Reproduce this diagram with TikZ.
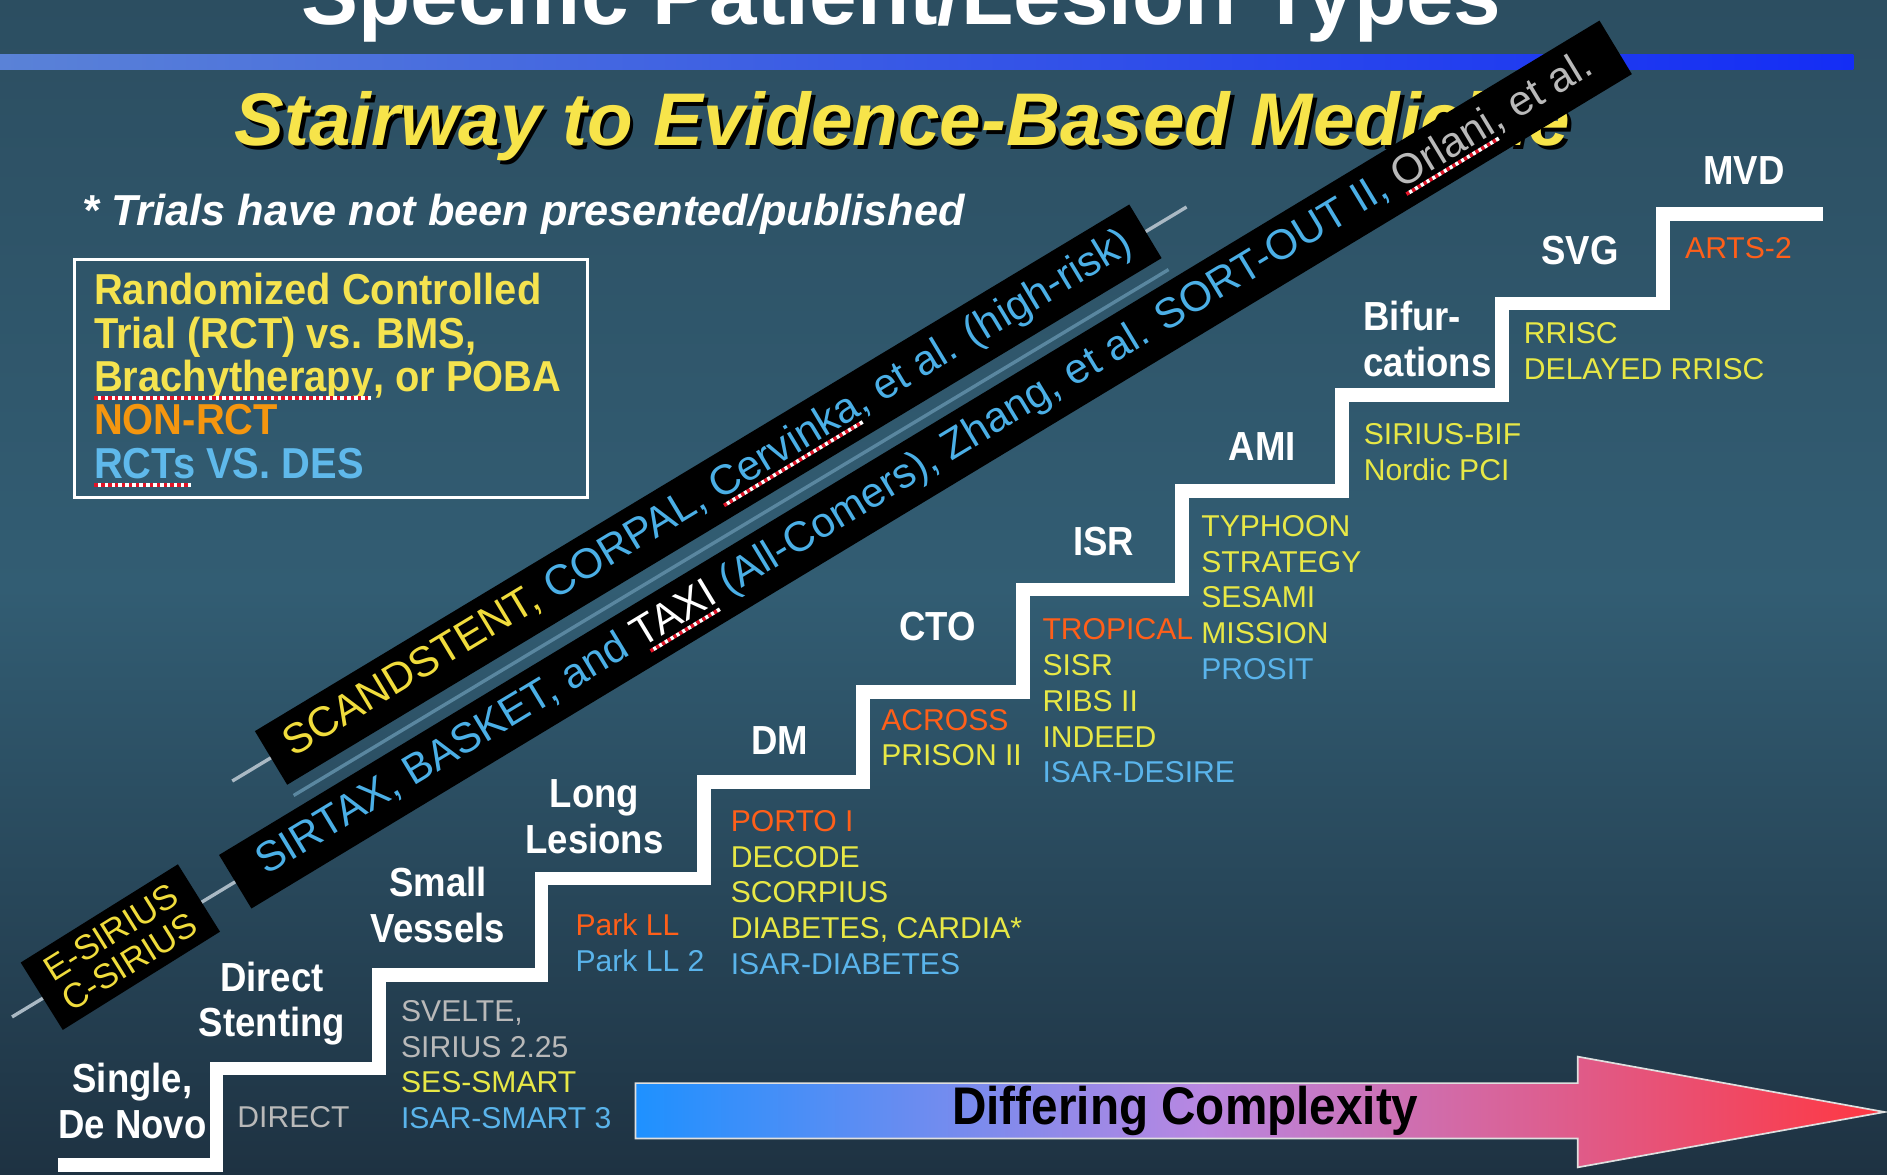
\documentclass[tikz,border=0pt]{standalone}
\usepackage{fontspec}
\setmainfont{Liberation Sans}
\newfontfamily\narrowfont[FakeStretch=0.92]{Liberation Sans}
\newfontfamily\stairfont[FakeStretch=0.9]{Liberation Sans}
\usetikzlibrary{positioning,calc}
\definecolor{bgtop}{RGB}{44,78,97}
\definecolor{bgmid}{RGB}{50,93,115}
\definecolor{bgbot}{RGB}{30,50,66}
\definecolor{barleft}{RGB}{90,130,215}
\definecolor{barright}{RGB}{20,45,245}
\definecolor{titleyellow}{RGB}{247,228,74}
\definecolor{legyellow}{RGB}{245,227,79}
\definecolor{legorange}{RGB}{245,150,15}
\definecolor{legblue}{RGB}{95,185,235}
\definecolor{tyellow}{RGB}{232,232,70}
\definecolor{torange}{RGB}{255,95,25}
\definecolor{tblue}{RGB}{90,180,235}
\definecolor{tgrey}{RGB}{185,185,185}
\definecolor{bandblue}{RGB}{75,175,230}
\definecolor{bandyellow}{RGB}{240,220,60}
\definecolor{skewgrey}{RGB}{170,185,196}
\definecolor{gapblue}{RGB}{90,135,160}
\definecolor{squigred}{RGB}{225,20,40}
\definecolor{arrowblue}{RGB}{30,145,255}
\definecolor{arrowmid}{RGB}{185,135,225}
\definecolor{arrowred}{RGB}{255,55,65}
\newsavebox{\spellbox}
\newcommand{\spellerr}[1]{\sbox{\spellbox}{#1}\rlap{\usebox{\spellbox}}\leaders\hbox{\textcolor{squigred}{\rule[-0.2em]{0.08em}{0.09em}}\textcolor{white}{\rule[-0.2em]{0.08em}{0.09em}}}\hskip\wd\spellbox\relax}

\tikzset{
  stairlabel/.style={text=white, align=center, font=\stairfont\bfseries\fontsize{24pt}{27pt}\selectfont},
  trials/.style={anchor=north west, align=left, font=\fontsize{17.8pt}{21.1pt}\selectfont},
  band/.style={fill=black, text=bandblue, minimum height=1.3cm, font=\fontsize{24.9pt}{24.9pt}\selectfont},
  skewer/.style={draw=skewgrey, line width=2pt},
}

\begin{document}
\begin{tikzpicture}[x=0.025cm,y=-0.025cm,every node/.style={inner sep=0pt}]
% background
\clip (0,0) rectangle (1568,976);
\shade[top color=bgtop, bottom color=bgmid] (0,0) rectangle (1568,489);
\shade[top color=bgmid, bottom color=bgbot] (0,488) rectangle (1568,976);
\shade[left color=barleft, right color=barright] (0,45) rectangle (1540,58);

% titles
\node[anchor=base, text=white, font=\bfseries\fontsize{50.5pt}{50.5pt}\selectfont] (toptitle) at (749,20) {Specific Patient/Lesion Types};
\node[anchor=base, text=black, font=\bfseries\itshape\fontsize{44.1pt}{44.1pt}\selectfont] (stairshadow) at (753,124) {Stairway to Evidence-Based Medicine};
\node[anchor=base, text=titleyellow, font=\bfseries\itshape\fontsize{44.1pt}{44.1pt}\selectfont] (stairtitle) at (750,121) {Stairway to Evidence-Based Medicine};
\node[anchor=base west, text=white, font=\bfseries\itshape\fontsize{25.6pt}{25.6pt}\selectfont] (note) at (68,187) {* Trials have not been presented/published};

% legend
\node[draw=white, line width=1.8pt, minimum width=10.65cm, minimum height=4.925cm] (legend) at (275,314.5) {};
\node[anchor=north west, align=left, font=\narrowfont\bfseries\fontsize{25.6pt}{25.6pt}\selectfont] (legendtext) at (78,227) {\textcolor{legyellow}{Randomized Controlled}\\\textcolor{legyellow}{Trial (RCT) vs. BMS,}\\\textcolor{legyellow}{\spellerr{Brachytherapy}, or POBA}\\\textcolor{legorange}{NON-RCT}\\\textcolor{legblue}{\spellerr{RCTs} VS. DES}};

% skewers behind the bands
\coordinate (esirTail) at (10,845);
\coordinate (sirtaxTail) at (200,730);
\coordinate (scandTail) at (193,649);
\coordinate (scandHead) at (986,172);
\coordinate (gapStart) at (244,661);
\coordinate (gapEnd) at (971,224);
\draw[skewer] (esirTail) -- (sirtaxTail);
\draw[skewer] (scandTail) -- (scandHead);
\draw[gapblue, line width=2pt] (gapStart) -- (gapEnd);

% bands
\node[band, minimum width=21.2cm, rotate=31.06] (scandband) at (588.5,411) {\textcolor{bandyellow}{SCANDSTENT,} CORPAL, \spellerr{Cervinka}, et al. (high-risk)};
\node[band, minimum width=33.5cm, rotate=31.15] (sirtaxband) at (769,386) {SIRTAX, BASKET, and \textcolor{white}{\spellerr{TAXI}} (All-Comers), Zhang, et al. SORT-OUT II, \textcolor{tgrey}{\spellerr{Orlani}, et al.}};
\node[band, minimum width=3.85cm, minimum height=1.65cm, rotate=32, text=bandyellow, align=center, font=\fontsize{20.5pt}{20.5pt}\selectfont] (esirbox) at (100,787) {E-SIRIUS\\C-SIRIUS};

% stairs
\draw[white, line width=8pt, line join=miter] (48,968) -| (180,888) -| (315,810) -| (450,730) -| (585,650) -| (717,575) -| (850,490) -| (982,408) -| (1115,328) -| (1248,252) -| (1382,178) -- (1515,178);

% step labels
\node[stairlabel] (single) at (110,915) {Single,\\De Novo};
\node[stairlabel] (direct) at (226,834) {Direct\\Stenting};
\node[stairlabel] (small) at (364,752) {Small\\Vessels};
\node[stairlabel] (long) at (494,678.5) {Long\\Lesions};
\node[stairlabel] (dm) at (648,615) {DM};
\node[stairlabel] (cto) at (779,521) {CTO};
\node[stairlabel] (isr) at (917,450) {ISR};
\node[stairlabel] (ami) at (1049,371) {AMI};
\node[stairlabel, anchor=west, align=left] (bif) at (1132,281.5) {\spellerr{Bifur-}\\\spellerr{cations}};
\node[stairlabel] (svg) at (1313,208) {SVG};
\node[stairlabel] (mvd) at (1449,142) {MVD};

% trials per step
\node[trials] (trDirect) at (197,919) {\textcolor{tgrey}{DIRECT}};
\node[trials] (trSmall) at (333,831) {\textcolor{tgrey}{SVELTE,}\\\textcolor{tgrey}{SIRIUS 2.25}\\\textcolor{tyellow}{SES-SMART}\\\textcolor{tblue}{ISAR-SMART 3}};
\node[trials] (trLong) at (478,759) {\textcolor{torange}{Park LL}\\\textcolor{tblue}{Park LL 2}};
\node[trials] (trDM) at (607,673) {\textcolor{torange}{PORTO I}\\\textcolor{tyellow}{DECODE}\\\textcolor{tyellow}{SCORPIUS}\\\textcolor{tyellow}{DIABETES, CARDIA*}\\\textcolor{tblue}{ISAR-DIABETES}};
\node[trials] (trCTO) at (732,589) {\textcolor{torange}{ACROSS}\\\textcolor{tyellow}{PRISON II}};
\node[trials] (trISR) at (866,514) {\textcolor{torange}{TROPICAL}\\\textcolor{tyellow}{SISR}\\\textcolor{tyellow}{RIBS II}\\\textcolor{tyellow}{INDEED}\\\textcolor{tblue}{ISAR-DESIRE}};
\node[trials] (trAMI) at (998,428) {\textcolor{tyellow}{TYPHOON}\\\textcolor{tyellow}{STRATEGY}\\\textcolor{tyellow}{SESAMI}\\\textcolor{tyellow}{MISSION}\\\textcolor{tblue}{PROSIT}};
\node[trials] (trBif) at (1133,352) {\textcolor{tyellow}{SIRIUS-BIF}\\\textcolor{tyellow}{Nordic PCI}};
\node[trials] (trSVG) at (1266,268) {\textcolor{tyellow}{RRISC}\\\textcolor{tyellow}{DELAYED RRISC}};
\node[trials] (trMVD) at (1400,197) {\textcolor{torange}{ARTS-2}};

% complexity arrow
\shade[left color=arrowblue, right color=arrowmid] (528,900) rectangle (1000,946);
\shade[left color=arrowmid, right color=arrowred] (999,900) -- (1311,900) -- (1311,878) -- (1566,924) -- (1311,970) -- (1311,946) -- (999,946) -- cycle;
\draw[white!75!gray, line width=1pt] (528,900) -- (1311,900) -- (1311,878) -- (1566,924) -- (1311,970) -- (1311,946) -- (528,946) -- cycle;
\node[text=black, font=\stairfont\bfseries\fontsize{31.3pt}{31.3pt}\selectfont] (complexity) at (985,923) {Differing Complexity};
\end{tikzpicture}
\end{document}
